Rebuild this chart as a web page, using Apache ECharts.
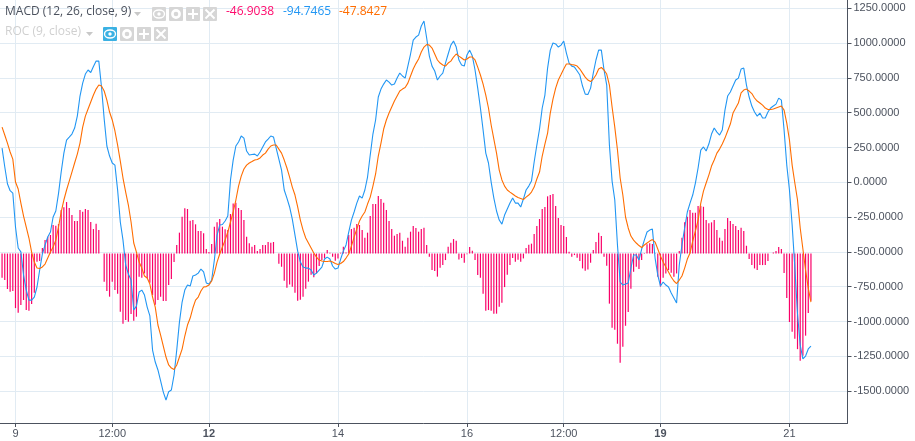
<!DOCTYPE html>
<html><head><meta charset="utf-8">
<script src="https://cdn.jsdelivr.net/npm/echarts@6/dist/echarts.min.js"></script>
<style>html,body{margin:0;padding:0;background:#fff}#c{width:915px;height:441px}</style>
</head><body><div id="c"></div>
<script>
const tickIndex=[5,41,77,125,173,209,245,293];
const tickLabels=['9','12:00','12','14','16','12:00','19','21'];
const boldLabels=['12','19'];
const yTicks=[1250,1000,750,500,250,0,-250,-500,-750,-1000,-1250,-1500];
const legendValues=['-46.9038','-94.7465','-47.8427'];
const macd=[246,112,-10,-60,-77,-321,-472,-500,-666,-774,-846,-846,-824,-752,-630,-515,-450,-393,-357,-249,-206,-81,74,210,304,325,347,390,476,620,713,778,807,789,832,871,871,685,455,261,189,139,124,-55,-285,-415,-594,-659,-702,-917,-889,-788,-774,-810,-896,-960,-1205,-1291,-1348,-1427,-1507,-1564,-1504,-1492,-1384,-1205,-1004,-860,-774,-738,-745,-673,-666,-652,-623,-644,-723,-731,-702,-558,-379,-307,-303,-278,-242,17,160,261,290,333,318,225,196,200,203,189,218,254,290,311,333,326,246,167,88,-55,-113,-177,-264,-379,-494,-573,-609,-616,-616,-630,-666,-652,-630,-609,-551,-537,-551,-601,-623,-616,-551,-494,-450,-357,-271,-213,-149,-98,-113,-55,38,196,347,448,613,670,706,735,720,699,706,749,785,764,749,835,922,1022,1044,1058,1123,1159,1037,907,835,800,735,764,785,857,922,986,1015,972,879,843,835,915,950,907,807,677,534,376,210,139,2,-113,-206,-271,-300,-235,-192,-149,-113,-149,-149,-177,-120,-55,-27,9,146,268,383,534,627,821,950,1001,994,972,986,1015,929,857,835,828,800,771,692,634,631,677,785,879,950,950,807,699,268,9,-127,-450,-716,-738,-731,-723,-616,-522,-522,-558,-479,-415,-357,-343,-336,-544,-666,-745,-716,-738,-752,-795,-831,-867,-594,-450,-328,-213,-149,-91,-5,103,232,254,225,275,347,390,361,340,376,519,620,649,692,735,749,814,821,699,613,548,505,476,498,462,462,505,534,548,562,605,591,376,124,-55,-307,-609,-946,-1169,-1269,-1248,-1197,-1176];
const signal=[397,340,282,218,167,2,-48,-149,-242,-321,-400,-501,-573,-616,-619,-608,-587,-544,-501,-465,-415,-321,-213,-127,-55,9,74,139,203,282,397,476,527,577,627,670,699,692,656,591,505,448,369,268,153,31,-70,-163,-285,-436,-501,-573,-616,-673,-687,-731,-824,-896,-1025,-1097,-1176,-1255,-1312,-1334,-1345,-1312,-1255,-1198,-1104,-1025,-975,-903,-846,-824,-781,-752,-749,-738,-709,-652,-573,-515,-465,-415,-357,-285,-213,-127,-27,45,96,124,139,149,160,164,175,196,210,239,261,268,268,239,210,160,103,38,-34,-91,-177,-271,-343,-400,-436,-472,-508,-537,-558,-565,-569,-569,-565,-573,-583,-590,-583,-569,-544,-515,-458,-393,-336,-278,-242,-213,-156,-106,-27,60,189,282,383,448,498,541,584,620,656,670,681,713,764,814,853,886,936,972,990,986,965,922,879,857,843,835,857,871,900,922,907,893,879,886,900,900,879,828,771,706,627,534,412,311,210,88,17,-27,-55,-70,-84,-98,-109,-116,-124,-106,-91,-70,-34,24,74,189,275,354,498,598,677,735,774,814,850,850,846,843,835,814,785,756,735,724,742,771,814,825,807,778,699,541,397,232,31,-91,-249,-328,-386,-415,-436,-454,-468,-450,-436,-422,-411,-429,-479,-530,-573,-609,-644,-680,-709,-727,-702,-673,-616,-551,-508,-422,-350,-271,-149,-63,-5,52,117,160,210,239,275,318,369,419,498,534,570,642,663,670,656,638,606,584,570,555,534,523,523,527,534,541,548,519,426,304,124,-5,-127,-328,-479,-631,-760,-860];
const hist=[-174,-190,-255,-274,-269,-392,-425,-370,-334,-406,-411,-363,-281,-59,-54,40,97,121,133,205,200,212,313,332,370,327,277,234,234,313,301,320,313,226,176,214,169,0,-202,-269,-310,-202,-262,-289,-418,-504,-478,-490,-435,-483,-454,-166,-174,-143,-178,-210,-298,-368,-334,-310,-341,-341,-226,-183,-61,61,150,265,325,320,236,241,210,162,162,145,32,11,68,193,224,248,193,174,169,284,360,365,327,313,241,121,73,49,61,18,32,61,61,83,78,83,0,-73,-95,-195,-245,-222,-238,-281,-339,-332,-310,-253,-202,-152,-171,-143,-90,-47,-35,25,6,-23,-51,-35,6,49,8,133,176,186,212,205,169,114,150,269,356,356,413,392,365,313,234,176,128,140,150,92,49,114,157,198,183,157,176,186,61,-23,-119,-126,-166,-102,-83,-47,49,78,104,92,-42,-32,-66,-6,47,20,-47,-154,-174,-289,-411,-406,-411,-432,-432,-382,-353,-241,-152,-83,-32,-59,-44,-59,-35,40,63,71,140,198,248,320,334,411,420,428,341,255,205,198,119,13,-23,-11,-30,-54,-107,-123,-114,-66,25,83,150,126,-23,-87,-360,-533,-547,-648,-784,-669,-519,-420,-253,-131,-95,-111,-47,-4,66,73,68,-4,-166,-238,-174,-143,-119,-138,-166,-143,18,114,224,265,313,293,293,341,344,336,241,217,224,241,169,114,92,176,255,234,212,198,169,186,162,56,-40,-83,-107,-119,-83,-83,-83,-54,0,8,18,47,32,-140,-320,-492,-562,-612,-687,-771,-734,-590,-428,-339];

const withIndex=a=>a.map((v,i)=>[i,v]);
const GRID='#e1ebf3', AXIS='#4c525e';
const font='"Liberation Sans",Arial,sans-serif';
const ui='"Open Sans",sans-serif';

function text(x,y,t,fill,size){return {type:'text',left:x,top:y,silent:true,style:{text:t,fill:fill,font:(size||12)+'px '+ui}};}
function btn(x,y,fill,kind){
  const g=[{type:'rect',shape:{x:x,y:y,width:14,height:14,r:1},style:{fill:fill}}];
  const cx=x+7,cy=y+7,w={stroke:'#fff',lineWidth:2,fill:'none'};
  if(kind==='eye'){g.push({type:'ellipse',shape:{cx:cx,cy:cy,rx:5.5,ry:4},style:{stroke:'#fff',lineWidth:1.4,fill:'none'}});g.push({type:'circle',shape:{cx:cx,cy:cy,r:1.7},style:{fill:'#fff'}});}
  if(kind==='gear'){g.push({type:'circle',shape:{cx:cx,cy:cy,r:3.6},style:{stroke:'#fff',lineWidth:2.6,fill:'none'}});}
  if(kind==='plus'){g.push({type:'line',shape:{x1:cx-5,y1:cy,x2:cx+5,y2:cy},style:w});g.push({type:'line',shape:{x1:cx,y1:cy-5,x2:cx,y2:cy+5},style:w});}
  if(kind==='x'){g.push({type:'line',shape:{x1:cx-4.5,y1:cy-4.5,x2:cx+4.5,y2:cy+4.5},style:w});g.push({type:'line',shape:{x1:cx+4.5,y1:cy-4.5,x2:cx-4.5,y2:cy+4.5},style:w});}
  return g;
}
function tri(x,y,fill){return {type:'polygon',shape:{points:[[x,y],[x+7,y],[x+3.5,y+4]]},style:{fill:fill}};}
const kinds=['eye','gear','plus','x'];
const hud=[];
hud.push(text(5,6,'MACD (12, 26, close, 9)','#4c525e'));
hud.push(tri(134,12,'#c8c8c8'));
kinds.forEach((k,i)=>btn(152+17*i,7,'#d6d6d6',k).forEach(e=>hud.push(e)));
hud.push(text(226,6,legendValues[0],'#ff0a6c'));
hud.push(text(283,6,legendValues[1],'#2196f3'));
hud.push(text(339,6,legendValues[2],'#ff6d00'));
hud.push(text(5,26,'ROC (9, close)','#d0d0d0'));
hud.push(tri(86,32,'#c8c8c8'));
kinds.forEach((k,i)=>btn(103+17*i,27,i===0?'#3bb1e3':'#d6d6d6',k).forEach(e=>hud.push(e)));

const yMax=1310,yMin=-1729,base=-511.5;
const chart=echarts.init(document.getElementById('c'),null,{renderer:'canvas'});
chart.setOption({
  animation:false,
  grid:{left:0,right:67.5,top:0,bottom:18,containLabel:false},
  xAxis:{type:'value',min:-0.767,max:314.6,
    axisLine:{show:true,onZero:false,lineStyle:{color:AXIS,width:1}},
    axisTick:{show:true,length:4,lineStyle:{color:AXIS},customValues:tickIndex},
    splitLine:{show:true,lineStyle:{color:GRID,width:1},customValues:tickIndex},
    axisLabel:{customValues:tickIndex,margin:5,fontFamily:font,fontSize:11,color:AXIS,hideOverlap:false,showMinLabel:true,showMaxLabel:true,
      formatter:v=>{const s=tickLabels[tickIndex.indexOf(Math.round(v))];return boldLabels.includes(s)?'{b|'+s+'}':s;},
      rich:{b:{fontFamily:font,fontSize:11,fontWeight:'bold',color:AXIS}}}},
  yAxis:[{type:'value',position:'right',min:yMin,max:yMax,
    axisLine:{show:true,onZero:false,lineStyle:{color:AXIS,width:1}},
    axisTick:{show:true,length:4,lineStyle:{color:AXIS},customValues:yTicks},
    splitLine:{show:true,lineStyle:{color:GRID,width:1},customValues:yTicks},
    axisLabel:{customValues:yTicks,margin:6,fontFamily:font,fontSize:11,color:AXIS,formatter:v=>v.toFixed(4)}},
   {type:'value',show:false,min:yMin-base,max:yMax-base,splitLine:{show:false}}],
  series:[
   {name:'hist',type:'bar',yAxisIndex:1,data:withIndex(hist),barWidth:1.2,itemStyle:{color:'#fa0068'},silent:true,z:2},
   {name:'macd',type:'line',data:withIndex(macd),showSymbol:false,lineStyle:{color:'#2196f3',width:1.1},silent:true,z:3},
   {name:'signal',type:'line',data:withIndex(signal),showSymbol:false,lineStyle:{color:'#ff6d00',width:1.1},silent:true,z:4}
  ],
  graphic:{elements:hud.map(e=>Object.assign({z:100},e))}
});
</script></body></html>
